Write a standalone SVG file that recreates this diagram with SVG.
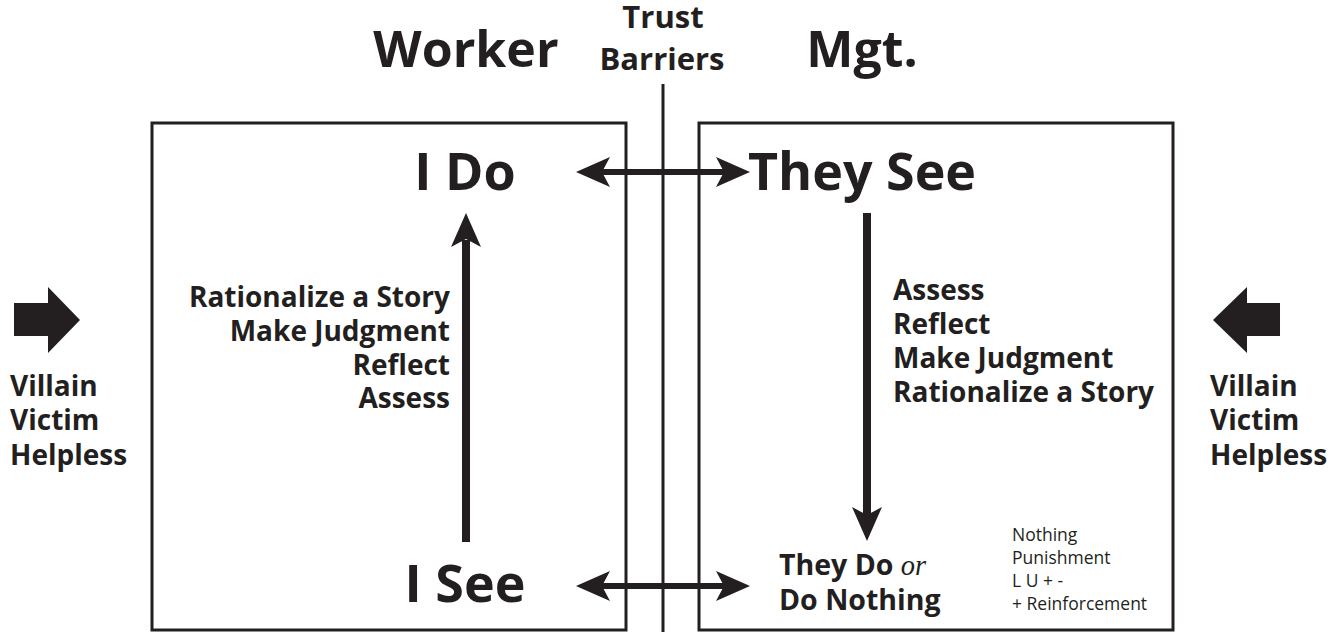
<svg xmlns="http://www.w3.org/2000/svg" width="1335" height="637" viewBox="0 0 1335 637">
  <style>
    .frame { fill: none; stroke: #231f20; stroke-width: 3; }
    .line { stroke: #231f20; stroke-width: 3; fill: none; }
    .shaft { stroke: #231f20; stroke-width: 6; fill: none; }
    .vshaft { stroke: #231f20; stroke-width: 8; fill: none; }
    .ink { fill: #231f20; }
    text { font-family: "Open Sans", "Liberation Sans", sans-serif; fill: #231f20; }
    .hdr { font-size: 50px; font-weight: 700; }
    .trust { font-size: 31px; font-weight: 700; }
    .big { font-size: 52px; font-weight: 700; }
    .step { font-size: 28px; font-weight: 700; }
    .side { font-size: 28px; font-weight: 700; }
    .act { font-size: 28.5px; font-weight: 700; }
    .or { font-family: "Liberation Serif", serif; font-style: italic; font-weight: 400; }
    .small { font-size: 17.5px; font-weight: 400; }
  </style>
  <defs>
    <path id="headR" d="M0,0 L-34,-15 L-26,0 L-34,15 Z"/>
  </defs>

  <rect width="1335" height="637" fill="#ffffff"/>

  <!-- headings -->
  <g id="heading-worker"><text class="hdr" x="466" y="67" text-anchor="middle">Worker</text></g>
  <g id="heading-mgt"><text class="hdr" x="862" y="67" text-anchor="middle">Mgt.</text></g>
  <g id="trust-barriers">
    <text class="trust" x="663" y="28" text-anchor="middle">Trust</text>
    <text class="trust" x="662" y="70" text-anchor="middle">Barriers</text>
    <line class="line" x1="663" y1="84" x2="663" y2="632"/>
  </g>

  <!-- worker panel -->
  <g id="worker-box">
    <rect class="frame" x="152" y="123" width="474" height="507"/>
    <text class="big" x="465" y="190" text-anchor="middle">I Do</text>
    <text class="big" x="465" y="602" text-anchor="middle">I See</text>
    <g class="step" text-anchor="end">
      <text x="450" y="307">Rationalize a Story</text>
      <text x="450" y="341">Make Judgment</text>
      <text x="450" y="375">Reflect</text>
      <text x="450" y="408">Assess</text>
    </g>
  </g>

  <!-- management panel -->
  <g id="mgt-box">
    <rect class="frame" x="699" y="123" width="474" height="507"/>
    <text class="big" x="862" y="190" text-anchor="middle">They See</text>
    <g class="step">
      <text x="893" y="300">Assess</text>
      <text x="893" y="334">Reflect</text>
      <text x="893" y="368">Make Judgment</text>
      <text x="893" y="402">Rationalize a Story</text>
    </g>
    <text class="act" x="779" y="575">They Do <tspan class="or">or</tspan></text>
    <text class="act" x="779" y="610">Do Nothing</text>
    <g class="small">
      <text x="1012" y="541">Nothing</text>
      <text x="1012" y="564">Punishment</text>
      <text x="1012" y="587">L U + -</text>
      <text x="1012" y="610">+ Reinforcement</text>
    </g>
  </g>

  <!-- outer pressures -->
  <g id="left-pressure">
    <path class="ink" d="M14,303 H48 V287 L80,320 L48,353 V336 H14 Z"/>
    <g class="side">
      <text x="10" y="396">Villain</text>
      <text x="10" y="430">Victim</text>
      <text x="10" y="465">Helpless</text>
    </g>
  </g>
  <g id="right-pressure">
    <path class="ink" d="M1280,303 H1247 V287 L1213,320 L1247,353 V336 H1280 Z"/>
    <g class="side">
      <text x="1210" y="396">Villain</text>
      <text x="1210" y="430">Victim</text>
      <text x="1210" y="465">Helpless</text>
    </g>
  </g>

  <!-- connectors -->
  <g id="connectors">
    <line class="shaft" x1="600" y1="172" x2="726" y2="172"/>
    <use href="#headR" class="ink" transform="translate(750,172)"/>
    <use href="#headR" class="ink" transform="translate(576,172) rotate(180)"/>

    <line class="shaft" x1="600" y1="586" x2="726" y2="586"/>
    <use href="#headR" class="ink" transform="translate(750,586)"/>
    <use href="#headR" class="ink" transform="translate(576,586) rotate(180)"/>

    <line class="vshaft" x1="466" y1="542" x2="466" y2="240"/>
    <use href="#headR" class="ink" transform="translate(466,213) rotate(-90)"/>

    <line class="vshaft" x1="867" y1="213" x2="867" y2="515"/>
    <use href="#headR" class="ink" transform="translate(867,541) rotate(90)"/>
  </g>
</svg>
